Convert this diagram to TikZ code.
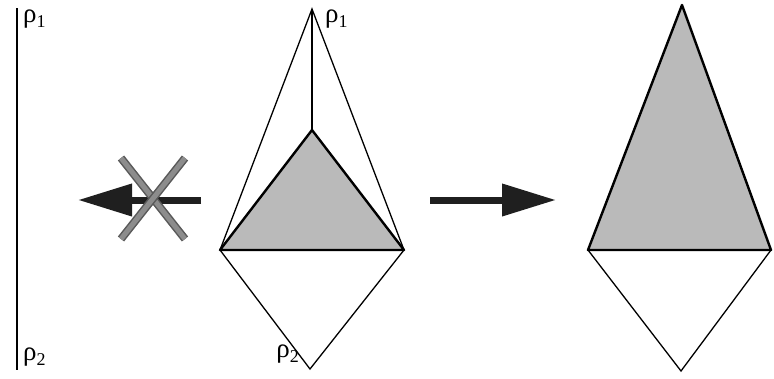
\documentclass[tikz,border=0pt]{standalone}
\usepackage{fontspec}
\setmainfont{Liberation Serif}
\usetikzlibrary{arrows.meta}
\newcommand{\rhosub}[1]{\fontsize{27}{30}\selectfont ρ\raisebox{-5pt}{\fontsize{18}{18}\selectfont #1}}

\begin{document}
\begin{tikzpicture}[x=1pt,y=-1pt,
  thin edge/.style={draw=black,line width=1.3pt,line join=miter},
  thick edge/.style={draw=black,line width=2.4pt,line join=round},
  shade/.style={fill=black!27},
  bigarr/.style={-{Triangle[length=54pt,width=31pt]},line width=7pt,black!88},
  cross/.style={line width=1.5pt,draw=black!65,double=black!45,double distance=5pt},
  lbl/.style={inner sep=0pt}
]
  \useasboundingbox (0,0) rectangle (774,378);

  % left: segment
  \coordinate (ltop) at (17,8);
  \coordinate (lbot) at (17,370);
  \draw[line width=2pt] (ltop) -- (lbot);
  \node[lbl,anchor=base west] (lr1) at (23,22) {\rhosub{1}};
  \node[lbl,anchor=base west] (lr2) at (23,360) {\rhosub{2}};

  % middle: tetrahedron view
  \coordinate (mtop) at (312,9);
  \coordinate (min)  at (312,130);
  \coordinate (mleft) at (220,250);
  \coordinate (mright) at (404,250);
  \coordinate (mbot) at (310,369);
  \fill[shade] (min) -- (mleft) -- (mright) -- cycle;
  \draw[thin edge] (mleft) -- (mtop) -- (mright);
  \draw[thin edge] (mtop) -- (min);
  \draw[thin edge] (mleft) -- (mbot) -- (mright);
  \draw[thick edge] (mleft) -- (min) -- (mright) -- cycle;
  \node[lbl,anchor=base west] (mr1) at (325,22) {\rhosub{1}};
  \node[lbl,anchor=base east] (mr2) at (299,357) {\rhosub{2}};

  % right: result
  \coordinate (rtop) at (682,5);
  \coordinate (rleft) at (588,250);
  \coordinate (rright) at (771,250);
  \coordinate (rbot) at (681,371);
  \fill[shade] (rtop) -- (rleft) -- (rright) -- cycle;
  \draw[thin edge] (rleft) -- (rbot) -- (rright);
  \draw[thick edge] (rtop) -- (rleft) -- (rright) -- cycle;

  % arrows
  \coordinate (a1s) at (201,200);
  \coordinate (a1e) at (78,200);
  \draw[bigarr] (a1s) -- (a1e);
  \coordinate (a2s) at (430,200);
  \coordinate (a2e) at (556,200);
  \draw[bigarr] (a2s) -- (a2e);

  % crossed out
  \coordinate (x1) at (121,158);
  \coordinate (x2) at (185,239);
  \coordinate (x3) at (185,158);
  \coordinate (x4) at (121,239);
  \draw[cross] (x1) -- (x2);
  \draw[cross] (x3) -- (x4);
\end{tikzpicture}
\end{document}
